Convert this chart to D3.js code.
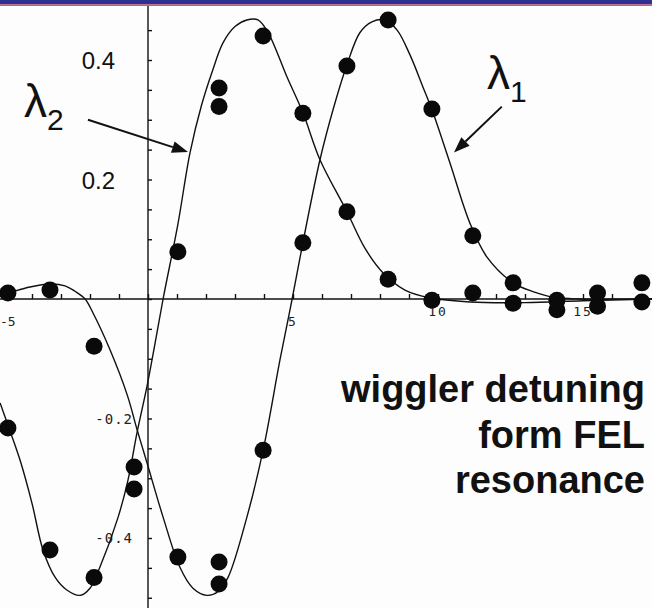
<!DOCTYPE html>
<html>
<head>
<meta charset="utf-8">
<script src="https://cdn.jsdelivr.net/npm/d3@7"></script>
<style>
  body { margin: 0; background: #fff; }
  svg { display: block; }
</style>
</head>
<body>
<script>
const WIDTH = 652;
const HEIGHT = 608;

// simulated curves
const curveLambda2 = [
  [-5.1, -0.174], [-4.83, -0.211], [-4.41, -0.27], [-4.0, -0.342], [-3.62, -0.42],
  [-3.2, -0.466], [-2.8, -0.487], [-2.34, -0.496], [-2.0, -0.484], [-1.66, -0.449],
  [-1.03, -0.365], [-0.69, -0.303], [-0.38, -0.224], [-0.03, -0.145], [0.24, -0.075],
  [0.52, 0], [1.03, 0.125], [1.45, 0.245], [1.85, 0.325], [2.21, 0.38], [2.59, 0.429],
  [3.0, 0.456], [3.41, 0.467], [3.79, 0.467], [4.14, 0.446], [4.79, 0.372], [5.34, 0.312],
  [5.93, 0.233], [6.86, 0.146], [7.48, 0.085], [8.1, 0.044], [8.86, 0.015], [9.72, 0.002],
  [11.1, -0.005], [13, -0.006], [15, -0.003], [17.4, 0]
];
const curveLambda1 = [
  [-5.1, 0.007], [-4.83, 0.01], [-4.07, 0.02], [-3.38, 0.025], [-2.86, 0.022], [-2.52, 0.013],
  [-2.17, 0], [-1.9, -0.023], [-1.31, -0.085], [-0.72, -0.16], [-0.38, -0.218], [-0.03, -0.275],
  [0.52, -0.365], [1.1, -0.449], [1.55, -0.484], [2.03, -0.496], [2.41, -0.49], [2.76, -0.466],
  [3.41, -0.365], [3.97, -0.253], [4.55, -0.102], [4.97, 0], [5.34, 0.094], [5.93, 0.233],
  [6.4, 0.32], [6.86, 0.392], [7.31, 0.446], [7.72, 0.464], [8.17, 0.467], [8.59, 0.45],
  [9.03, 0.409], [9.48, 0.355], [9.79, 0.317], [10.41, 0.228], [11.1, 0.127], [11.69, 0.07],
  [12.59, 0.027], [13.3, 0.012], [13.97, 0.003], [14.9, 0], [17.4, 0]
];

// measured points
const dotsLambda2 = [
  [-4.83, -0.216], [-3.38, -0.42], [-1.86, -0.466], [-0.48, -0.281], [1.03, 0.079],
  [2.45, 0.353], [2.45, 0.322], [3.97, 0.44], [5.34, 0.311], [6.86, 0.146], [8.28, 0.033],
  [9.79, -0.002], [11.2, 0.01], [12.59, -0.007], [14.1, -0.018], [15.5, -0.012], [17.03, -0.005]
];
const dotsLambda1 = [
  [-4.83, 0.01], [-3.38, 0.015], [-1.86, -0.079], [-0.48, -0.318], [1.03, -0.432],
  [2.45, -0.44], [2.45, -0.477], [3.97, -0.253], [5.34, 0.094], [6.86, 0.39], [8.28, 0.467],
  [9.79, 0.318], [11.2, 0.106], [12.59, 0.027], [14.1, -0.002], [15.5, 0.01], [17.03, 0.027]
];

const xTickLabels = [-5, 5, 10, 15];
const yTickLabelsPos = [0.2, 0.4];
const yTickLabelsNeg = [-0.2, -0.4];
const noteLines = ["wiggler detuning", "form FEL", "resonance"];

let svg = d3.select("body")
            .append("svg")
            .attr("width", WIDTH)
            .attr("height", HEIGHT);

svg.append("rect").attr("width", WIDTH).attr("height", HEIGHT).attr("fill", "#fdfdfd");

// slide header strip
svg.append("rect").attr("width", WIDTH).attr("height", 4.5).attr("fill", "#2e3192");
svg.append("rect").attr("y", 4.5).attr("width", WIDTH).attr("height", 1.5).attr("fill", "#e4555c");

const x = d3.scaleLinear().domain([-5, 15]).range([3, 583]);
const y = d3.scaleLinear().domain([-0.4, 0.4]).range([538, 60]);

// axes
svg.append("line")
   .attr("x1", 0).attr("x2", WIDTH)
   .attr("y1", y(0)).attr("y2", y(0))
   .attr("stroke", "#111").attr("stroke-width", 1.4);
svg.append("line")
   .attr("x1", x(0)).attr("x2", x(0))
   .attr("y1", 6).attr("y2", HEIGHT)
   .attr("stroke", "#111").attr("stroke-width", 1.4);

let xAxis = svg.append("g")
               .attr("transform", `translate(0,${y(0)})`)
               .call(d3.axisTop(x).tickValues(d3.range(-5, 18)).tickSize(5).tickFormat(""));
xAxis.select(".domain").remove();
xAxis.selectAll("line").attr("stroke", "#111").attr("stroke-width", 1.4);

let yAxis = svg.append("g")
               .attr("transform", `translate(${x(0)},0)`)
               .call(d3.axisRight(y).tickValues(d3.range(-10, 10).map(i => i * 0.05)).tickSize(4).tickFormat(""));
yAxis.select(".domain").remove();
yAxis.selectAll("line").attr("stroke", "#111").attr("stroke-width", 1.4);

// the -5 label sits right at the left edge, so anchor it there
svg.selectAll("text.xlab")
   .data(xTickLabels).enter()
   .append("text")
   .attr("class", "xlab")
   .attr("x", d => d < 0 ? 0 : x(d))
   .attr("y", d => Math.abs(d) < 10 ? 326 : 316)
   .attr("text-anchor", d => d < 0 ? "start" : "middle")
   .attr("font-family", "DejaVu Sans Mono")
   .attr("font-size", 13)
   .attr("letter-spacing", d => d < 0 ? 0 : 2)
   .attr("fill", "#222")
   .text(d => d);

svg.selectAll("text.ypos")
   .data(yTickLabelsPos).enter()
   .append("text")
   .attr("class", "ypos")
   .attr("x", 115)
   .attr("y", d => y(d) + 9)
   .attr("text-anchor", "end")
   .attr("font-family", "Liberation Sans, Arial, sans-serif")
   .attr("font-size", 24)
   .attr("fill", "#111")
   .text(d => d.toFixed(1));

svg.selectAll("text.yneg")
   .data(yTickLabelsNeg).enter()
   .append("text")
   .attr("class", "yneg")
   .attr("x", 133)
   .attr("y", d => y(d) + 5)
   .attr("text-anchor", "end")
   .attr("font-family", "DejaVu Sans Mono")
   .attr("font-size", 14)
   .attr("letter-spacing", 1)
   .attr("fill", "#222")
   .text(d => d.toFixed(1));

// curves
const line = d3.line()
               .x(d => x(d[0]))
               .y(d => y(d[1]))
               .curve(d3.curveCatmullRom.alpha(0.5));

[curveLambda2, curveLambda1].forEach(c => {
  svg.append("path")
     .datum(c)
     .attr("d", line)
     .attr("fill", "none")
     .attr("stroke", "#111")
     .attr("stroke-width", 1.4);
});

// dots
svg.selectAll("circle.dot")
   .data(dotsLambda2.concat(dotsLambda1)).enter()
   .append("circle")
   .attr("class", "dot")
   .attr("cx", d => x(d[0]))
   .attr("cy", d => y(d[1]))
   .attr("r", 8.5)
   .attr("fill", "#0a0a0a");

// arrows
const arrow = (from, to) => {
  const x1 = x(from[0]), y1 = y(from[1]), x2 = x(to[0]), y2 = y(to[1]);
  const a = Math.atan2(y2 - y1, x2 - x1);
  const len = 16, half = 6;
  const bx = x2 - len * Math.cos(a), by = y2 - len * Math.sin(a);
  svg.append("line")
     .attr("x1", x1).attr("y1", y1).attr("x2", bx).attr("y2", by)
     .attr("stroke", "#111").attr("stroke-width", 2);
  svg.append("path")
     .attr("d", `M${x2},${y2}L${bx - half * Math.sin(a)},${by + half * Math.cos(a)}L${bx + half * Math.sin(a)},${by - half * Math.cos(a)}Z`)
     .attr("fill", "#111");
};
arrow([-2.07, 0.30], [1.38, 0.246]);
arrow([12.2, 0.322], [10.55, 0.245]);

// lambda labels
const lambdaLabel = (px, py, sub) => {
  let t = svg.append("text")
             .attr("x", px).attr("y", py)
             .attr("font-family", "Liberation Sans, Arial, sans-serif")
             .attr("fill", "#111");
  t.append("tspan").attr("font-size", 46).text("λ");
  t.append("tspan").attr("font-size", 30).attr("dy", 13).text(sub);
};
lambdaLabel(24, 117, "2");
lambdaLabel(487, 89, "1");

// note text
svg.selectAll("text.note")
   .data(noteLines).enter()
   .append("text")
   .attr("class", "note")
   .attr("x", 645)
   .attr("y", (d, i) => 402 + i * 45.5)
   .attr("text-anchor", "end")
   .attr("font-family", "Liberation Sans, Arial, sans-serif")
   .attr("font-weight", "bold")
   .attr("font-size", 38)
   .attr("fill", "#111")
   .text(d => d);
</script>
</body>
</html>
